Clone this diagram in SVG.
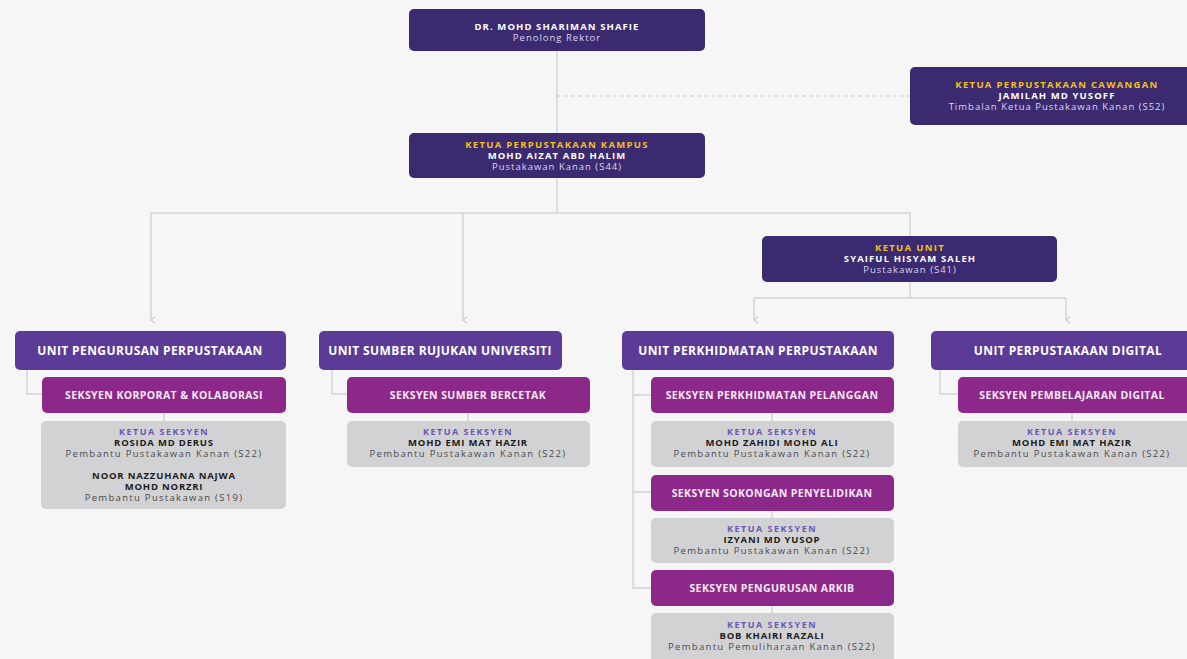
<svg xmlns="http://www.w3.org/2000/svg" width="1187" height="659" viewBox="0 0 1187 659">
<defs>
<marker id="arr" viewBox="0 0 10 10" refX="5" refY="8" markerWidth="8" markerHeight="8" orient="auto-start-reverse" markerUnits="userSpaceOnUse">
<path d="M1,3 L5,8 L9,3" fill="none" stroke="#c9c9cc" stroke-width="1.5"/>
</marker>
</defs>
<style>
.bg{fill:#f6f6f7}
.lead{fill:#3b2a6f}
.unit{fill:#5c3b97}
.sec{fill:#8c2889}
.grey{fill:#d2d2d4}
.ln{stroke:#d3d3d6;stroke-width:1.5;fill:none}
.dash{stroke:#c8c8cc;stroke-width:1.2;fill:none;stroke-dasharray:4 3}
text{font-family:"Open Sans","Liberation Sans",sans-serif;text-anchor:middle}
.t1{font-size:9.5px;font-weight:700;fill:#ffffff;letter-spacing:1.1px}
.t2{font-size:9.5px;fill:#ddd5f0;letter-spacing:1px}
.ty{font-size:9.5px;font-weight:700;fill:#f2c21a;letter-spacing:1.3px}
.tu{font-size:12px;font-weight:700;fill:#ffffff;letter-spacing:0.4px}
.ts{font-size:10.5px;font-weight:700;fill:#f6e9f6;letter-spacing:0.4px}
.gk{font-size:9px;font-weight:700;fill:#6b55b5;letter-spacing:1.5px}
.gn{font-size:9.5px;font-weight:700;fill:#1c1c1c;letter-spacing:0.8px}
.gr{font-size:9.5px;fill:#4a4a4a;letter-spacing:1.3px}
</style>
<rect class="bg" x="0" y="0" width="1187" height="659"/>
<g id="connectors">
<path class="ln" d="M557,51 V133"/>
<path class="dash" d="M557,96 H910"/>
<path class="ln" d="M557,178 V213"/>
<path class="ln" d="M151,213 H910 V298"/>
<path class="ln" d="M151,213 V320" marker-end="url(#arr)"/>
<path class="ln" d="M463,213 V320" marker-end="url(#arr)"/>
<path class="ln" d="M754,298 H1066"/>
<path class="ln" d="M754,298 V320" marker-end="url(#arr)"/>
<path class="ln" d="M1066,298 V320" marker-end="url(#arr)"/>
<path class="ln" d="M27,370 V394 H42"/>
<path class="ln" d="M332,370 V394 H347"/>
<path class="ln" d="M633,370 V588 H651 M633,395 H651 M633,492 H651"/>
<path class="ln" d="M940,370 V394 H958"/>
<path class="ln" d="M164,413 V421 M468,413 V421 M772,413 V421 M772,511 V518 M772,606 V613 M1072,413 V421"/>
</g>
<g id="n-rektor">
<rect class="lead" x="409" y="9" width="296" height="42" rx="5"/>
<text class="t1" x="557" y="29.5">DR. MOHD SHARIMAN SHAFIE</text>
<text class="t2" x="557" y="40.5">Penolong Rektor</text>
</g>
<g id="n-cawangan">
<rect class="lead" x="910" y="67" width="290" height="58" rx="5"/>
<text class="ty" x="1057" y="87.5">KETUA PERPUSTAKAAN CAWANGAN</text>
<text class="t1" x="1057" y="98.5">JAMILAH MD YUSOFF</text>
<text class="t2" x="1057" y="109.5">Timbalan Ketua Pustakawan Kanan (S52)</text>
</g>
<g id="n-kampus">
<rect class="lead" x="409" y="133" width="296" height="45" rx="5"/>
<text class="ty" x="557" y="147.5">KETUA PERPUSTAKAAN KAMPUS</text>
<text class="t1" x="557" y="158.5">MOHD AIZAT ABD HALIM</text>
<text class="t2" x="557" y="169.5">Pustakawan Kanan (S44)</text>
</g>
<g id="n-ketuaunit">
<rect class="lead" x="762" y="236" width="295" height="46" rx="5"/>
<text class="ty" x="910" y="250.5">KETUA UNIT</text>
<text class="t1" x="910" y="261.5">SYAIFUL HISYAM SALEH</text>
<text class="t2" x="910" y="272.5">Pustakawan (S41)</text>
</g>
<g id="u-pengurusan">
<rect class="unit" x="15" y="331" width="271" height="39" rx="5"/>
<text class="tu" x="150" y="354.5">UNIT PENGURUSAN PERPUSTAKAAN</text>
</g>
<g id="u-sumber">
<rect class="unit" x="319" y="331" width="243" height="39" rx="5"/>
<text class="tu" x="440" y="354.5">UNIT SUMBER RUJUKAN UNIVERSITI</text>
</g>
<g id="u-perkhidmatan">
<rect class="unit" x="622" y="331" width="272" height="39" rx="5"/>
<text class="tu" x="758" y="354.5">UNIT PERKHIDMATAN PERPUSTAKAAN</text>
</g>
<g id="u-digital">
<rect class="unit" x="931" y="331" width="262" height="39" rx="5"/>
<text class="tu" x="1068" y="354.5">UNIT PERPUSTAKAAN DIGITAL</text>
</g>
<g id="s-korporat">
<rect class="sec" x="42" y="377" width="244" height="36" rx="5"/>
<text class="ts" x="164" y="398.5">SEKSYEN KORPORAT &amp; KOLABORASI</text>
</g>
<g id="g-korporat">
<rect class="grey" x="41" y="421" width="245" height="88" rx="5"/>
<text class="gk" x="164" y="434.5">KETUA SEKSYEN</text>
<text class="gn" x="164" y="445.5">ROSIDA MD DERUS</text>
<text class="gr" x="164" y="456.5">Pembantu Pustakawan Kanan (S22)</text>
<text class="gn" x="164" y="478.5">NOOR NAZZUHANA NAJWA</text>
<text class="gn" x="164" y="489.5">MOHD NORZRI</text>
<text class="gr" x="164" y="500.5">Pembantu Pustakawan (S19)</text>
</g>
<g id="s-bercetak">
<rect class="sec" x="347" y="377" width="243" height="36" rx="5"/>
<text class="ts" x="468" y="398.5">SEKSYEN SUMBER BERCETAK</text>
</g>
<g id="g-bercetak">
<rect class="grey" x="347" y="421" width="243" height="46" rx="5"/>
<text class="gk" x="468" y="435">KETUA SEKSYEN</text>
<text class="gn" x="468" y="446">MOHD EMI MAT HAZIR</text>
<text class="gr" x="468" y="457">Pembantu Pustakawan Kanan (S22)</text>
</g>
<g id="s-pelanggan">
<rect class="sec" x="651" y="377" width="243" height="36" rx="5"/>
<text class="ts" x="772" y="398.5">SEKSYEN PERKHIDMATAN PELANGGAN</text>
</g>
<g id="g-pelanggan">
<rect class="grey" x="651" y="421" width="243" height="46" rx="5"/>
<text class="gk" x="772" y="435">KETUA SEKSYEN</text>
<text class="gn" x="772" y="446">MOHD ZAHIDI MOHD ALI</text>
<text class="gr" x="772" y="457">Pembantu Pustakawan Kanan (S22)</text>
</g>
<g id="s-penyelidikan">
<rect class="sec" x="651" y="475" width="243" height="36" rx="5"/>
<text class="ts" x="772" y="496.5">SEKSYEN SOKONGAN PENYELIDIKAN</text>
</g>
<g id="g-penyelidikan">
<rect class="grey" x="651" y="518" width="243" height="45" rx="5"/>
<text class="gk" x="772" y="532">KETUA SEKSYEN</text>
<text class="gn" x="772" y="543">IZYANI MD YUSOP</text>
<text class="gr" x="772" y="554">Pembantu Pustakawan Kanan (S22)</text>
</g>
<g id="s-arkib">
<rect class="sec" x="651" y="570" width="243" height="36" rx="5"/>
<text class="ts" x="772" y="591.5">SEKSYEN PENGURUSAN ARKIB</text>
</g>
<g id="g-arkib">
<rect class="grey" x="651" y="613" width="243" height="50" rx="5"/>
<text class="gk" x="772" y="628">KETUA SEKSYEN</text>
<text class="gn" x="772" y="639">BOB KHAIRI RAZALI</text>
<text class="gr" x="772" y="650">Pembantu Pemuliharaan Kanan (S22)</text>
</g>
<g id="s-digital">
<rect class="sec" x="958" y="377" width="235" height="36" rx="5"/>
<text class="ts" x="1072" y="398.5">SEKSYEN PEMBELAJARAN DIGITAL</text>
</g>
<g id="g-digital">
<rect class="grey" x="958" y="421" width="235" height="46" rx="5"/>
<text class="gk" x="1072" y="435">KETUA SEKSYEN</text>
<text class="gn" x="1072" y="446">MOHD EMI MAT HAZIR</text>
<text class="gr" x="1072" y="457">Pembantu Pustakawan Kanan (S22)</text>
</g>
</svg>
